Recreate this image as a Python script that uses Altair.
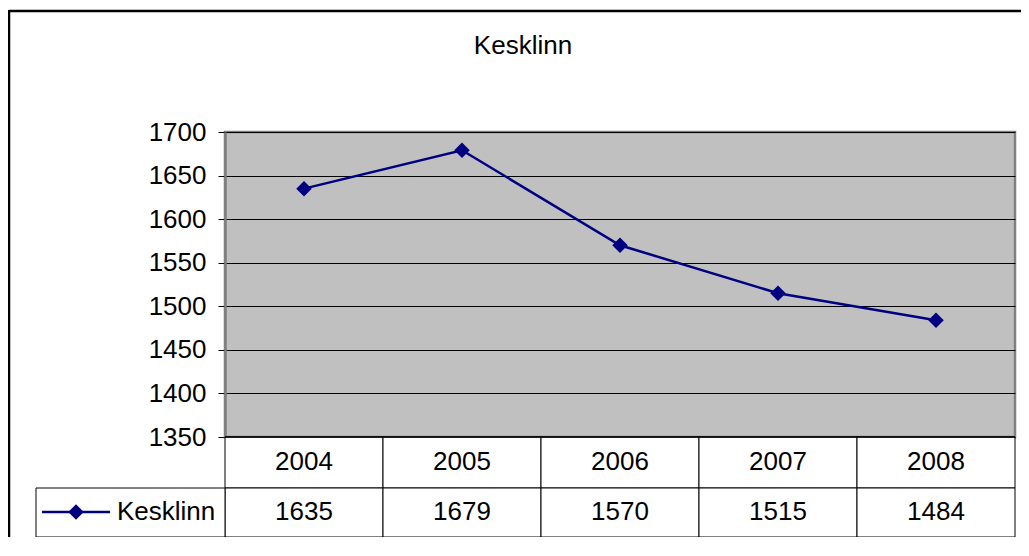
import altair as alt
import pandas as pd

# ---- data ----
years = ["2004", "2005", "2006", "2007", "2008"]
values = [1635, 1679, 1570, 1515, 1484]
series_name = "Kesklinn"
chart_title = "Kesklinn"
y_ticks = [1350, 1400, 1450, 1500, 1550, 1600, 1650, 1700]

df = pd.DataFrame({"year": years, "value": values})
one = pd.DataFrame({"name": [series_name]})

FONT = "Liberation Sans"
FS = 26
NAVY = "#000080"
W, H = 790, 305

X = alt.X("year:N", sort=years, axis=None,
          scale=alt.Scale(type="band", paddingInner=0, paddingOuter=0))
Y = alt.Y("value:Q", title=None,
          scale=alt.Scale(domain=[1350, 1700], nice=False, zero=False),
          axis=alt.Axis(values=y_ticks, format="d", tickSize=7, tickColor="black",
                        domainColor="#808080", domainWidth=2.5,
                        labelFont=FONT, labelFontSize=FS, labelColor="black",
                        labelPadding=12, grid=True, gridColor="black",
                        gridWidth=1, gridOpacity=1))

base = alt.Chart(df)

line = base.mark_line(color=NAVY, strokeWidth=2.5).encode(x=X, y=Y)
pts = base.mark_point(shape="diamond", filled=True, size=240, color=NAVY,
                      opacity=1).encode(x=X, y=Y)

hdr_cells = base.mark_rect(fill="white", stroke="black", strokeWidth=1).encode(
    x=X, y=alt.value(H), y2=alt.value(356))
val_cells = base.mark_rect(fill="white", stroke="black", strokeWidth=1).encode(
    x=X, y=alt.value(356), y2=alt.value(405))

hdr = base.mark_text(font=FONT, fontSize=FS, color="black", baseline="middle").encode(
    x=X, y=alt.value(330), text="year:N")
vals = base.mark_text(font=FONT, fontSize=FS, color="black", baseline="middle").encode(
    x=X, y=alt.value(380), text="value:Q")

frame = alt.Chart(one)
leg_cell = frame.mark_rect(fill="white", stroke="black", strokeWidth=1).encode(
    x=alt.value(-189), x2=alt.value(0), y=alt.value(356), y2=alt.value(405))
bottom = frame.mark_rule(color="black", strokeWidth=1.5).encode(
    x=alt.value(0), x2=alt.value(W), y=alt.value(H))

leg_line = frame.mark_rule(color=NAVY, strokeWidth=2.5).encode(
    x=alt.value(-183), x2=alt.value(-115), y=alt.value(380))
leg_pt = frame.mark_point(shape="diamond", filled=True, size=240, color=NAVY,
                          opacity=1).encode(x=alt.value(-149), y=alt.value(380))
leg_txt = frame.mark_text(font=FONT, fontSize=FS, color="black", align="left",
                          baseline="middle").encode(
    x=alt.value(-108), y=alt.value(380), text="name:N")

title = frame.mark_text(font=FONT, fontSize=FS, color="black", baseline="middle").encode(
    x=alt.value(298), y=alt.value(-86), text=alt.value(chart_title))

outer_l = frame.mark_rule(color="black", strokeWidth=2.5).encode(
    x=alt.value(-216), y=alt.value(-122), y2=alt.value(420))
outer_t = frame.mark_rule(color="black", strokeWidth=2.5).encode(
    x=alt.value(-216), x2=alt.value(820), y=alt.value(-121))

chart = alt.layer(
    hdr_cells, val_cells, leg_cell, bottom,
    line, pts, hdr, vals,
    leg_line, leg_pt, leg_txt, title, outer_l, outer_t,
).properties(
    width=W, height=H,
    autosize=alt.AutoSizeParams(type="none"),
    padding={"left": 217, "top": 124, "right": 6, "bottom": 100},
    background="white",
).configure_view(
    fill="#C0C0C0", stroke="#808080", strokeWidth=2.5
)

chart.save("out.html", embed_options={"renderer": "svg", "actions": False})
